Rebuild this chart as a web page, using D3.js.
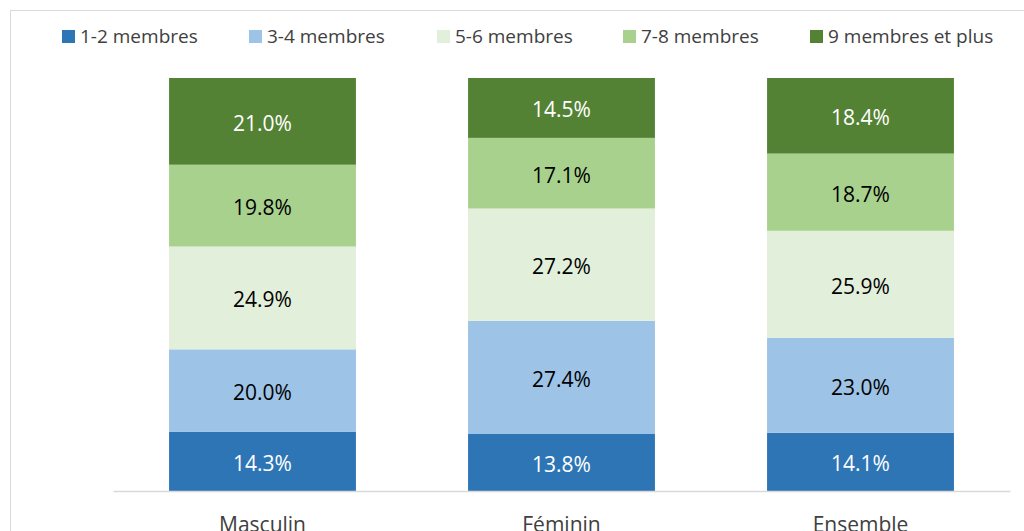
<!DOCTYPE html>
<html>
<head>
<meta charset="utf-8">
<script src="https://cdn.jsdelivr.net/npm/d3@7"></script>
<style>
  html, body { margin: 0; padding: 0; background: #fff; overflow: hidden; }
  svg { display: block; font-family: "Open Sans", sans-serif; }
</style>
</head>
<body>
<div id="chart"></div>
<script>
// catégories et séries (valeurs en %)
const categories = ["Masculin", "Féminin", "Ensemble"];
const seriesNames = ["1-2 membres", "3-4 membres", "5-6 membres", "7-8 membres", "9 membres et plus"];
const s12 = [14.3, 13.8, 14.1];
const s34 = [20.0, 27.4, 23.0];
const s56 = [24.9, 27.2, 25.9];
const s78 = [19.8, 17.1, 18.7];
const s9p = [21.0, 14.5, 18.4];

const colors = ["#2E75B6", "#9DC3E6", "#E2EFDA", "#A9D18E", "#548235"];
const labelColors = ["#fff", "#000", "#000", "#000", "#fff"];

const width = 1024, height = 531;
const margin = { top: 78, right: 14, bottom: 40, left: 113 };
const innerW = width - margin.left - margin.right;
const innerH = height - margin.top - margin.bottom;

// tableau pour d3.stack
const allSeries = [s12, s34, s56, s78, s9p];
const table = categories.map((c, i) => {
  const row = { cat: c };
  seriesNames.forEach((k, j) => row[k] = allSeries[j][i]);
  return row;
});

const svg = d3.select("#chart")
  .append("svg")
  .attr("width", width)
  .attr("height", height);

// cadre du graphique
svg.append("rect")
  .attr("x", 10.5)
  .attr("y", 10.5)
  .attr("width", 1200)
  .attr("height", 800)
  .attr("fill", "none")
  .attr("stroke", "#d9d9d9")
  .attr("stroke-width", 1);

const g = svg.append("g")
  .attr("transform", `translate(${margin.left},${margin.top})`);

const x = d3.scaleBand()
  .domain(categories)
  .range([0, innerW])
  .paddingInner(0.375)
  .paddingOuter(0.1875);

const y = d3.scaleLinear()
  .domain([0, 100])
  .range([innerH, 0]);

const stack = d3.stack().keys(seriesNames);
const layers = stack(table);

const layer = g.selectAll(".layer")
  .data(layers)
  .enter()
  .append("g")
  .attr("class", "layer")
  .attr("fill", (d, i) => colors[i]);

layer.selectAll("rect")
  .data(d => d)
  .enter()
  .append("rect")
  .attr("x", d => x(d.data.cat))
  .attr("y", d => y(Math.min(d[1], 100)))
  .attr("width", x.bandwidth())
  .attr("height", d => y(d[0]) - y(Math.min(d[1], 100)));

// étiquettes de données
layers.forEach((l, i) => {
  g.selectAll(".lbl" + i)
    .data(l)
    .enter()
    .append("text")
    .attr("x", d => x(d.data.cat) + x.bandwidth() / 2)
    .attr("y", d => (y(d[0]) + y(Math.min(d[1], 100))) / 2)
    .attr("dy", "0.45em")
    .attr("text-anchor", "middle")
    .style("font-size", "21px")
    .style("fill", labelColors[i])
    .text(d => d.data[l.key].toFixed(1) + "%");
});

// axe horizontal
const xAxis = g.append("g")
  .attr("transform", `translate(0,${innerH})`)
  .call(d3.axisBottom(x).tickSize(0).tickPadding(26));
xAxis.select(".domain").attr("stroke", "#d9d9d9").attr("stroke-width", 1.5);
xAxis.selectAll("text")
  .style("font-size", "21px")
  .style("font-family", "Open Sans, sans-serif")
  .style("fill", "#404040");

// légende
const legendX = [62, 249, 437, 623, 810];
const legend = svg.append("g").selectAll("g")
  .data(seriesNames)
  .enter()
  .append("g")
  .attr("transform", (d, i) => `translate(${legendX[i]},30)`);

legend.append("rect")
  .attr("width", 13)
  .attr("height", 13)
  .attr("fill", (d, i) => colors[i]);

legend.append("text")
  .attr("x", 18)
  .attr("y", 13)
  .style("font-size", "19px")
  .style("fill", "#404040")
  .text(d => d);
</script>
</body>
</html>
